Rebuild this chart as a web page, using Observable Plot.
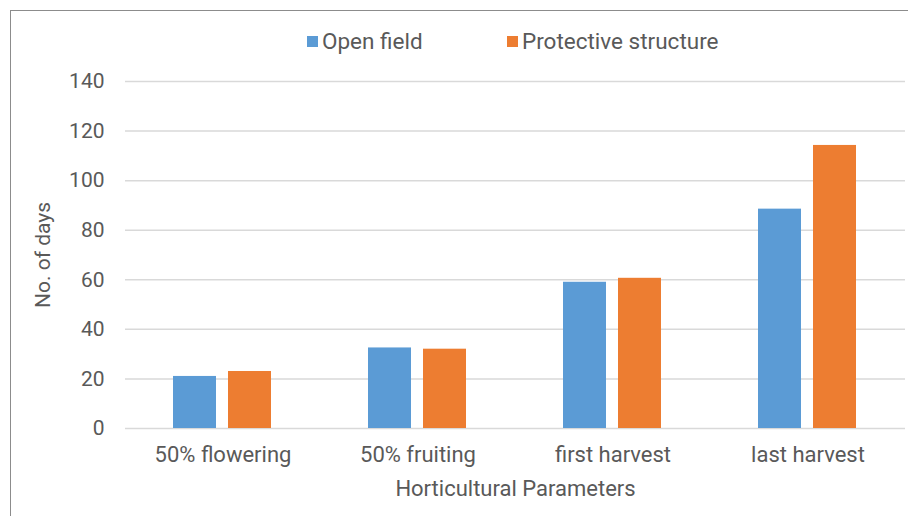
<!DOCTYPE html>
<html>
<head>
<meta charset="utf-8">
<script src="https://cdn.jsdelivr.net/npm/d3@7"></script>
<script src="https://cdn.jsdelivr.net/npm/@observablehq/plot@0.6"></script>
<style>
  html, body { margin: 0; padding: 0; background: #fff; }
  #chart { position: relative; width: 908px; height: 516px; overflow: hidden; font-family: Roboto, "Noto Sans", sans-serif; color: #595959; }
  #frame { position: absolute; left: 10px; top: 10px; width: 960px; height: 560px; border-left: 1px solid #8c8c8c; border-top: 1px solid #8c8c8c; }
  #plot { position: absolute; left: 0; top: 0; }
  .legend { position: absolute; top: 28px; display: flex; align-items: center; font-size: 22.5px; line-height: 26px; color: #595959; white-space: nowrap; }
  .legend .sw { width: 11px; height: 11px; margin-right: 4px; }
</style>
</head>
<body>
<div id="chart">
  <div id="frame"></div>
  <div id="plot"></div>
</div>
<script>
// Days to each stage, by growing condition
const categories = ["50% flowering", "50% fruiting", "first harvest", "last harvest"];
const series = ["Open field", "Protective structure"];
const openField = [21, 32.5, 59, 88.5];
const protectiveStructure = [23, 32, 60.6, 114.2];
const yTicks = [0, 20, 40, 60, 80, 100, 120, 140];
const colors = ["#5b9bd5", "#ed7d31"];

const rows = categories.flatMap((c, i) => [
  {stage: c, series: series[0], days: openField[i]},
  {stage: c, series: series[1], days: protectiveStructure[i]}
]);

const plot = Plot.plot({
  width: 908,
  height: 516,
  marginTop: 81,
  marginBottom: 88,
  marginLeft: 123,
  marginRight: 2,
  style: {fontFamily: "Roboto, 'Noto Sans', sans-serif", fontSize: "22px", color: "#595959", background: "transparent", overflow: "visible"},
  fx: {domain: categories, padding: 0},
  x: {domain: series, paddingInner: 0.216, paddingOuter: 0.874},
  y: {domain: [0, 140]},
  color: {domain: series, range: colors},
  marks: [
    Plot.gridY(yTicks, {stroke: "#d9d9d9", strokeOpacity: 1, strokeWidth: 1.5}),
    Plot.barY(rows, {fx: "stage", x: "series", y: "days", fill: "series"}),
    Plot.axisY(yTicks, {tickSize: 0, tickPadding: 21, label: "No. of days", labelAnchor: "center", labelArrow: false, labelOffset: 90, fill: "#595959", fontSize: 21}),
    Plot.axisFx({anchor: "bottom", tickSize: 0, tickPadding: 18, label: "Horticultural Parameters", labelAnchor: "center", labelArrow: false, labelOffset: 67, fill: "#595959", fontSize: 22}),
    Plot.axisX({ticks: [], tickSize: 0, label: null})
  ]
});
document.getElementById("plot").appendChild(plot);

// Legend row above the plot area
const chart = d3.select("#chart");
const legendX = [307, 507];
series.forEach((s, i) => {
  const item = chart.append("div").attr("class", "legend").style("left", legendX[i] + "px");
  item.append("div").attr("class", "sw").style("background", colors[i]);
  item.append("span").text(s);
});
</script>
</body>
</html>
